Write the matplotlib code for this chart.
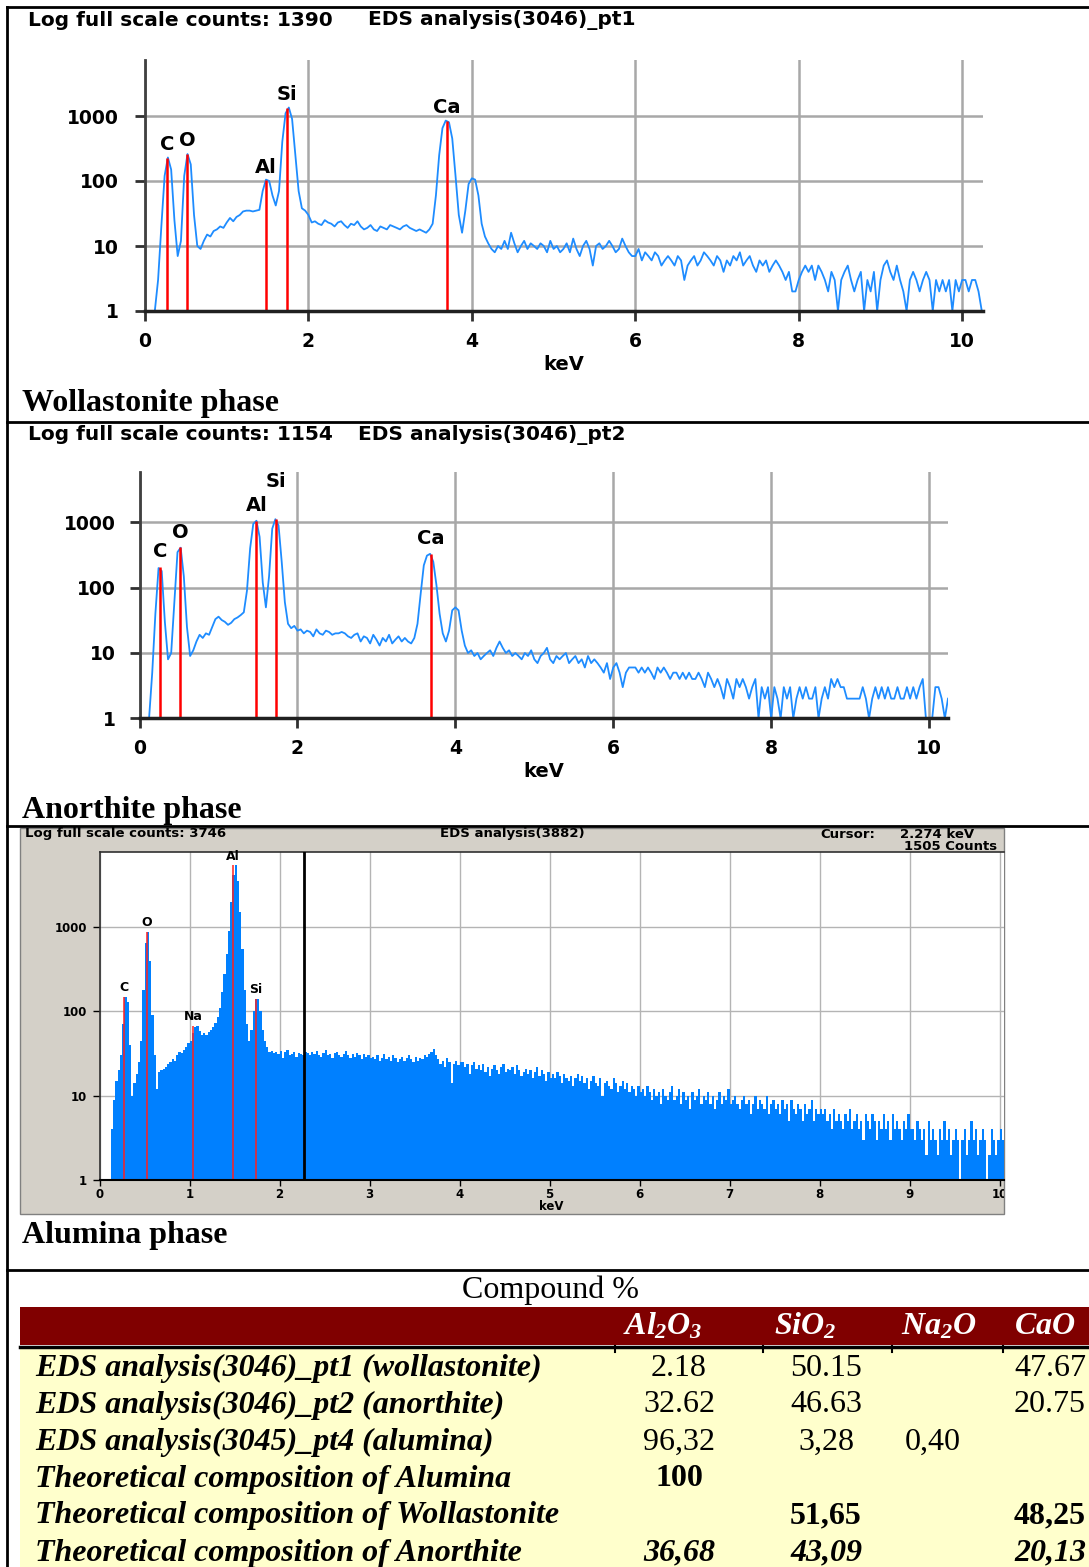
import numpy as np
import matplotlib
matplotlib.use('Agg')
import matplotlib.pyplot as plt
from matplotlib.patches import Rectangle
from matplotlib.lines import Line2D
from matplotlib.ticker import NullLocator

W, H = 1089, 1567

# ---- spectrum 1 : wollastonite, counts per 0.04 keV channel (0 .. 10.24 keV)
step12 = 0.04
wol_counts = [1, 1, 1, 1, 3, 20, 120, 230, 150, 25, 7, 12, 120, 260, 180, 30,
              10, 9, 12, 15, 14, 17, 18, 20, 19, 23, 27, 24, 28, 30, 34, 35,
              35, 34, 35, 36, 70, 105, 100, 60, 42, 70, 400, 1100, 1350, 900,
              250, 70, 38, 35, 30, 23,
              # 2.08 keV
              24, 22, 21, 25, 23, 22, 20, 23, 24, 21, 19, 22, 21, 24, 20, 18,
              19, 21, 18, 17, 20, 19, 18, 21, 20, 19, 18, 20, 21, 19, 18, 17, 18,
              # 3.40 keV
              17, 16, 18, 22, 60, 250, 650, 850, 800, 450, 120, 30, 16, 35, 90,
              110, 105, 60, 22, 14, 11, 9,
              # 4.28 keV
              8, 10, 9, 12, 9, 16, 11, 8, 10, 12, 9, 11, 10, 9, 11, 10, 8, 12,
              9, 10, 8, 9, 11, 8, 13, 9, 7, 10, 12, 9, 5, 10, 11, 9, 10, 12, 10,
              8, 9, 13, 10, 8, 7,
              # 6.00 keV
              7, 9, 6, 8, 7, 6, 8, 7, 5, 6, 7, 6, 5, 7, 6, 3, 5, 6, 7, 5, 6, 8,
              7, 6, 5, 7, 6, 4, 6, 5, 7, 6, 8, 5, 6, 7, 5, 4, 6, 5, 6, 4, 5, 6,
              5, 4, 3, 4, 2,
              # 7.96 keV
              2, 3, 4, 5, 4, 5, 3, 5, 4, 3, 2, 4, 3, 1, 3, 4, 5, 3, 2, 3, 4, 1,
              3, 2, 4, 1, 3, 5, 6, 4, 3, 5, 3, 2, 1, 3, 4, 3, 2, 3, 4, 3, 1, 3,
              2, 3, 2, 3, 1, 3, 2, 3, 3, 2, 3, 3, 2, 1]
wol_lines = ['C', 'O', 'Al', 'Si', 'Ca']
wol_kev = [0.27, 0.52, 1.48, 1.74, 3.69]
wol_peak = [225, 260, 105, 1340, 840]

# ---- spectrum 2 : anorthite
ano_counts = [1, 1, 1, 1, 5, 40, 200, 180, 30, 8, 10, 60, 350, 410, 150, 25,
              9, 11, 15, 19, 17, 20, 19, 25, 33, 36, 32, 30, 27, 29, 33, 35,
              38, 42, 90, 400, 950, 1060, 600, 120, 50, 150, 800, 1120, 900,
              250, 60, 28, 24, 26, 22,
              # 2.04 keV
              23, 20, 22, 21, 18, 23, 20, 19, 22, 21, 19, 20, 20, 21, 20, 18,
              17, 19, 20, 15, 18, 17, 14, 19, 16, 13, 17, 15, 19, 14, 16, 18,
              15, 17,
              # 3.40 keV
              15, 14, 17, 28, 80, 220, 310, 330, 250, 110, 40, 20, 15, 22, 45,
              50, 45, 22, 13, 10,
              # 4.20 keV
              11, 9, 10, 8, 9, 10, 11, 9, 12, 15, 12, 10, 11, 9, 10, 9, 8, 10,
              9, 11, 8, 7, 9, 10, 12, 8, 7, 9, 8, 9, 10, 7, 8, 9, 7, 8, 6, 9, 7,
              8, 7, 6, 5, 7, 4,
              # 6.00 keV
              6, 7, 5, 3, 5, 6, 6, 6, 5, 6, 5, 6, 5, 4, 6, 5, 6, 5, 4, 5, 5, 4,
              5, 4, 5, 4, 4, 5, 4, 3, 5, 4, 3, 4, 3, 2, 4, 3, 2, 4, 3, 4, 3, 2,
              3, 4, 1, 3, 2, 3,
              # 8.00 keV
              1, 3, 2, 1, 3, 2, 3, 1, 2, 3, 2, 3, 2, 2, 3, 1, 2, 3, 2, 4, 3, 4,
              3, 3, 2, 2, 2, 2, 2, 3, 2, 1, 2, 3, 2, 3, 2, 3, 2, 2, 3, 2, 2, 3,
              2, 3, 2, 3, 4, 1, 1, 1, 3, 3, 2, 1, 2]
ano_lines = ['C', 'O', 'Al', 'Si', 'Ca']
ano_kev = [0.26, 0.51, 1.48, 1.73, 3.69]
ano_peak = [210, 415, 1060, 1120, 330]

# ---- spectrum 3 : alumina, counts per 0.025 keV channel (0 .. 10.05 keV)
step3 = 0.025
alu_counts = [1, 1, 1, 1, 1, 4, 9, 15, 20, 30, 70, 150, 130, 40, 10, 14, 18,
              25, 45, 180, 650, 880, 400, 90, 30, 12, 19, 20, 21, 22, 24, 25,
              27, 26, 30, 33, 32, 35, 38, 42, 45, 55, 65, 68, 58, 52, 55, 53,
              57, 60, 66, 72, 85, 110, 170, 280, 480, 900, 2000, 4200, 5400,
              3500, 1500, 550, 180, 70, 44, 60, 100, 140, 142, 100, 60, 45,
              38, 33,
              # 1.90 keV
              34, 32, 33, 31, 34, 28, 33, 35, 30, 31, 33, 29, 32, 31, 30, 33,
              # 2.30 keV
              32, 30, 33, 31, 34, 30, 29, 32, 35, 30, 31, 28, 32, 33, 30, 29,
              31, 34, 30, 28, 31, 29, 32, 30, 27, 31, 29, 30, 28,
              # 3.025 keV
              29, 27, 30, 26, 28, 31, 27, 29, 26, 30, 28, 25, 27, 29, 26, 28,
              30, 27, 25, 29, 26, 28, 27, 30, 29, 31, 33, 36, 30, 27, 24, 26,
              22, 28, 25, 14, 24, 26, 23, 25,
              # 4.025 keV
              25, 22, 24, 18, 23, 25, 21, 23, 20, 24, 19, 22, 17, 21, 23, 20,
              18, 22, 24, 19, 21, 20, 22, 18, 23, 20, 17, 19, 21, 18, 20, 16,
              19, 22, 17, 20, 18, 15, 19, 16,
              # 5.025 keV
              18, 16, 19, 17, 14, 18, 16, 15, 17, 13, 16, 18, 15, 17, 14, 16,
              12, 15, 17, 14, 13, 16, 10, 14, 15, 13, 12, 16, 14, 11, 13, 15,
              12, 14, 11, 13, 12, 10, 13, 11,
              # 6.025 keV
              12, 10, 13, 11, 9, 12, 10, 11, 8, 12, 10, 9, 11, 13, 9, 10, 12,
              8, 11, 9, 10, 7, 11, 9, 10, 12, 8, 10, 9, 11, 8, 10, 7, 9, 11, 8,
              10, 9, 12, 8,
              # 7.025 keV
              9, 10, 8, 7, 9, 10, 8, 9, 6, 8, 10, 7, 9, 8, 7, 10, 6, 8, 9, 7, 8,
              6, 9, 7, 8, 5, 9, 7, 6, 8, 7, 5, 8, 6, 7, 9, 5, 7, 6, 7,
              # 8.025 keV
              6, 7, 5, 6, 4, 7, 5, 6, 5, 4, 6, 5, 7, 4, 5, 6, 4, 5, 3, 6, 5, 4,
              6, 5, 3, 5, 4, 6, 4, 5, 3, 6, 4, 5, 4, 3, 5, 4, 6, 4,
              # 9.025 keV
              4, 3, 5, 4, 3, 4, 2, 5, 3, 4, 3, 2, 4, 3, 5, 3, 4, 2, 3, 4, 3, 1,
              3, 4, 2, 3, 5, 3, 4, 2, 3, 4, 3, 1, 2, 4, 3, 2, 3, 4, 3]
alu_lines = ['C', 'O', 'Na', 'Al', 'Si']
alu_kev = [0.277, 0.525, 1.041, 1.486, 1.740]
alu_peak = [150, 880, 68, 5400, 142]
cursor_kev = 2.274

# ---- compound table
compounds = [r'$Al_2O_3$', r'$SiO_2$', r'$Na_2O$', r'$CaO$']
row_labels = ['EDS analysis(3046)_pt1 (wollastonite)',
              'EDS analysis(3046)_pt2 (anorthite)',
              'EDS analysis(3045)_pt4 (alumina)',
              'Theoretical composition of Alumina',
              'Theoretical composition of Wollastonite',
              'Theoretical composition of Anorthite']
cells = [['2.18', '50.15', '', '47.67'],
         ['32.62', '46.63', '', '20.75'],
         ['96,32', '3,28', '0,40', ''],
         ['100', '', '', ''],
         ['', '51,65', '', '48,25'],
         ['36,68', '43,09', '', '20,13']]

plt.rcParams['mathtext.fontset'] = 'custom'
plt.rcParams['mathtext.it'] = 'Liberation Serif:italic:bold'
plt.rcParams['mathtext.rm'] = 'Liberation Serif:italic:bold'

fig = plt.figure(figsize=(W / 100, H / 100), dpi=100)
fig.patch.set_facecolor('white')


def px_axes(x0, y0, x1, y1):
    return fig.add_axes([x0 / W, 1 - y1 / H, (x1 - x0) / W, (y1 - y0) / H])


def px_line(x0, y0, x1, y1, **kw):
    fig.add_artist(Line2D([x0 / W, x1 / W], [1 - y0 / H, 1 - y1 / H],
                          transform=fig.transFigure, **kw))


def px_rect(x0, y0, x1, y1, **kw):
    r = Rectangle((x0 / W, 1 - y1 / H), (x1 - x0) / W, (y1 - y0) / H,
                  transform=fig.transFigure, **kw)
    fig.add_artist(r)
    return r


def px_text(x, y, s, **kw):
    return fig.text(x / W, 1 - y / H, s, **kw)


def line_panel(box, counts, kev, lines, peaks, xmax, top, dys, ypad, xpad, klabel_y):
    x0, y0, x1, y1 = box
    ax = px_axes(*box)
    x = np.arange(len(counts)) * step12
    ax.plot(x, counts, color='#1e8cff', lw=1.3, zorder=3)
    ax.vlines(kev, 1, peaks, color='#ff0000', lw=1.8, zorder=4)
    for name, e, p, d in zip(lines, kev, peaks, dys):
        ax.annotate(name, (e, p), xytext=(0, d), textcoords='offset points',
                    ha='center', va='bottom', fontsize=14, fontweight='bold')
    ax.set_yscale('log')
    ax.set_xlim(0, xmax)
    ax.set_ylim(1, top)
    ax.set_xticks([0, 2, 4, 6, 8, 10])
    ax.set_yticks([1, 10, 100, 1000])
    ax.set_yticklabels(['1', '10', '100', '1000'])
    ax.yaxis.set_minor_locator(NullLocator())
    ax.grid(True, color='#a8a8a8', lw=1.8)
    ax.set_axisbelow(True)
    for s in ['top', 'right']:
        ax.spines[s].set_visible(False)
    ax.spines['left'].set_color('#404040')
    ax.spines['left'].set_linewidth(2)
    ax.spines['bottom'].set_color('#202020')
    ax.spines['bottom'].set_linewidth(2.5)
    ax.spines['bottom'].set_zorder(5)
    ax.tick_params(length=7, width=2, color='#303030', labelsize=13.5)
    ax.tick_params(axis='y', pad=ypad)
    ax.tick_params(axis='x', pad=xpad)
    for lab in ax.get_xticklabels() + ax.get_yticklabels():
        lab.set_fontweight('bold')
    ax.set_xlabel('keV', fontsize=14, fontweight='bold', va='center')
    ax.xaxis.set_label_coords(0.5, -(klabel_y - y1) / (y1 - y0))
    return ax


# ---- outer cell borders
px_line(7, 7, W, 7, color='black', lw=2)
px_line(7, 7, 7, H, color='black', lw=2)
px_line(7, 421.5, W, 421.5, color='black', lw=2)
px_line(7, 826.5, W, 826.5, color='black', lw=2)
px_line(7, 1270, W, 1270, color='black', lw=2)

# ---- panel 1
px_text(28, 20.5, 'Log full scale counts: 1390', fontsize=14.5, fontweight='bold', va='center')
px_text(368, 20.5, 'EDS analysis(3046)_pt1', fontsize=14.5, fontweight='bold', va='center')
line_panel((145, 60, 982.6, 311), wol_counts, wol_kev, wol_lines, wol_peak,
           10.25, 10 ** (251 / 65), [3, 3, 2, 3, 3], 12, 8, 365)
px_text(22, 411.5, 'Wollastonite phase', fontsize=23, fontweight='bold',
        family='Liberation Serif', va='baseline')

# ---- panel 2
px_text(28, 435, 'Log full scale counts: 1154', fontsize=14.5, fontweight='bold', va='center')
px_text(358, 435, 'EDS analysis(3046)_pt2', fontsize=14.5, fontweight='bold', va='center')
line_panel((139.6, 471.7, 948, 718.3), ano_counts, ano_kev, ano_lines, ano_peak,
           10.24, 10 ** (246.6 / 65.3), [4, 4, 4, 20, 4], 10, 8, 771.7)
px_text(22, 818, 'Anorthite phase', fontsize=23, fontweight='bold',
        family='Liberation Serif', va='baseline')

# ---- panel 3 (window style)
frame = px_rect(20, 828, 1004, 1214, facecolor='#d4d0c8', edgecolor='#808080',
                lw=1, zorder=-1)
px_text(25, 834, 'Log full scale counts: 3746', fontsize=9.5, fontweight='bold', va='center')
px_text(512, 834, 'EDS analysis(3882)', fontsize=9.5, fontweight='bold', va='center', ha='center')
px_text(820, 834, 'Cursor:', fontsize=9.5, fontweight='bold', va='center')
px_text(900, 834, '2.274 keV', fontsize=9.5, fontweight='bold', va='center')
px_text(997, 846, '1505 Counts', fontsize=9.5, fontweight='bold', va='center', ha='right')

ax3 = px_axes(99.5, 852, 1004, 1180)
ax3.set_facecolor('white')
edges = np.arange(len(alu_counts) + 1) * step3
ax3.stairs(alu_counts, edges, baseline=1, fill=True, color='#0080ff', zorder=3)
ax3.vlines(alu_kev, 1, alu_peak, color='#ff2020', lw=1.1, zorder=4)
for name, e, p in zip(alu_lines, alu_kev, alu_peak):
    ax3.annotate(name, (e, p), xytext=(0, 2), textcoords='offset points',
                 ha='center', va='bottom', fontsize=9, fontweight='bold')
ax3.axvline(cursor_kev, color='black', lw=2, zorder=5)
ax3.set_yscale('log')
ax3.set_xlim(0, 10.05)
ax3.set_ylim(1, 10 ** (328 / 84.3))
ax3.set_xticks(range(0, 11))
ax3.set_xticklabels([str(i) for i in range(0, 11)])
ax3.set_yticks([1, 10, 100, 1000])
ax3.set_yticklabels(['1', '10', '100', '1000'])
ax3.yaxis.set_minor_locator(NullLocator())
ax3.grid(True, color='#b4b4b4', lw=1)
ax3.set_axisbelow(True)
for s in ['top', 'left']:
    ax3.spines[s].set_color('#303030')
    ax3.spines[s].set_linewidth(1.2)
ax3.spines['right'].set_visible(False)
ax3.spines['bottom'].set_color('black')
ax3.spines['bottom'].set_linewidth(1.5)
ax3.spines['bottom'].set_zorder(6)
ax3.tick_params(length=5, width=1, color='black', labelsize=8.5)
ax3.tick_params(axis='x', length=4, pad=2)
ax3.tick_params(axis='y', pad=4)
for lab in ax3.get_xticklabels() + ax3.get_yticklabels():
    lab.set_fontweight('bold')
ax3.get_xticklabels()[-1].set_clip_path(frame)
ax3.set_xlabel('keV', fontsize=8.5, fontweight='bold', va='center')
ax3.xaxis.set_label_coords(0.5, -(1206 - 1180) / 328)
px_text(22, 1243, 'Alumina phase', fontsize=23, fontweight='bold',
        family='Liberation Serif', va='baseline')

# ---- table
px_text(550, 1290, 'Compound %', fontsize=23, family='Liberation Serif',
        ha='center', va='center')
px_rect(20, 1307, W + 5, 1345, facecolor='#800000', edgecolor='none')
px_rect(20, 1348, W + 5, H + 5, facecolor='#ffffcc', edgecolor='none')
px_line(20, 1346.5, W, 1346.5, color='black', lw=2.5)
for xs in [615, 763, 892, 1003]:
    px_line(xs, 1346, xs, 1352, color='black', lw=1.5)

head_x = [663, 805, 939, 1045]
for name, cx in zip(compounds, head_x):
    px_text(cx, 1326, name, fontsize=23, color='white', ha='center', va='center')

col_x = [679, 826, 933]
row_weight = ['normal', 'normal', 'normal', 'bold', 'bold', 'bold']
row_style = ['normal', 'normal', 'normal', 'normal', 'normal', 'italic']
for i, (lab, vals) in enumerate(zip(row_labels, cells)):
    y = 1368 + 37 * i
    px_text(35, y, lab, fontsize=23, family='Liberation Serif', fontweight='bold',
            style='italic', va='center')
    for j, v in enumerate(vals):
        if not v:
            continue
        if j < 3:
            px_text(col_x[j], y, v, fontsize=23, family='Liberation Serif',
                    fontweight=row_weight[i], style=row_style[i],
                    ha='center', va='center')
        else:
            # CaO column sits against the right edge
            px_text(W - 3, y, v, fontsize=23, family='Liberation Serif',
                    fontweight=row_weight[i], style=row_style[i],
                    ha='right', va='center')

fig.savefig('out.png', dpi=100)
